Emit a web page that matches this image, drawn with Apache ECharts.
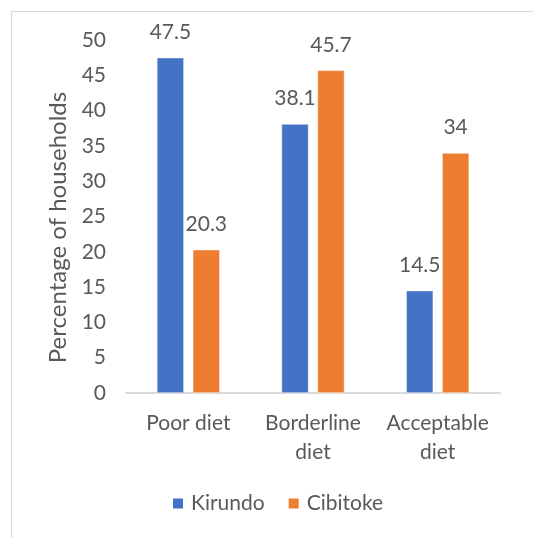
<!DOCTYPE html>
<html>
<head>
<meta charset="utf-8">
<script src="https://cdn.jsdelivr.net/npm/echarts@6/dist/echarts.min.js"></script>
<style>
  html, body { margin: 0; padding: 0; background: #ffffff; }
  #frame { position: absolute; left: 11px; top: 11px; width: 540px; height: 540px; border: 1px solid #d9d9d9; box-sizing: border-box; }
  #chart { position: absolute; left: 0; top: 0; width: 533px; height: 538px; }
</style>
</head>
<body>
<div id="frame"></div>
<div id="chart"></div>
<script>
// Food consumption groups by province
const categories = ['Poor diet', 'Borderline\ndiet', 'Acceptable\ndiet'];
const kirundo = [47.5, 38.1, 14.5];
const cibitoke = [20.3, 45.7, 34];
const seriesNames = ['Kirundo', 'Cibitoke'];

const textColor = '#595959';
const fontFamily = 'Lato, "Liberation Sans", sans-serif';

const chart = echarts.init(document.getElementById('chart'), null, { renderer: 'canvas' });

const labelStyle = {
  show: true,
  position: 'top',
  distance: 15,
  color: textColor,
  fontSize: 21,
  fontFamily: fontFamily
};

chart.setOption({
  animation: false,
  backgroundColor: 'transparent',
  grid: { left: 126, right: 33, top: 40, bottom: 145, containLabel: false },
  legend: {
    data: seriesNames,
    left: 171,
    top: 493,
    padding: 0,
    itemWidth: 12,
    itemHeight: 12,
    itemGap: 22,
    icon: 'rect',
    textStyle: { color: textColor, fontSize: 21, fontFamily: fontFamily, padding: [0, 8, 0, 2] }
  },
  xAxis: {
    type: 'category',
    data: categories,
    axisLine: { lineStyle: { color: '#d9d9d9', width: 2 } },
    axisTick: { show: false },
    axisLabel: { interval: 0, color: textColor, fontSize: 21, fontFamily: fontFamily, lineHeight: 29, margin: 16 }
  },
  yAxis: {
    type: 'value',
    min: 0,
    max: 50,
    interval: 5,
    name: 'Percentage of households',
    nameLocation: 'middle',
    nameGap: 51,
    nameTextStyle: { color: textColor, fontSize: 24, fontFamily: fontFamily, padding: [0, 0, 0, -22] },
    axisLine: { show: false },
    axisTick: { show: false },
    splitLine: { show: false },
    axisLabel: { color: textColor, fontSize: 21, fontFamily: fontFamily, margin: 20 }
  },
  series: [
    {
      name: seriesNames[0],
      type: 'bar',
      data: kirundo,
      barWidth: 27,
      barGap: '33%',
      itemStyle: { color: '#4472C4', borderColor: '#ffffff', borderWidth: 0.5 },
      label: labelStyle
    },
    {
      name: seriesNames[1],
      type: 'bar',
      data: cibitoke,
      barWidth: 27,
      barGap: '33%',
      itemStyle: { color: '#ED7D31', borderColor: '#ffffff', borderWidth: 0.5 },
      label: labelStyle
    }
  ]
});
</script>
</body>
</html>
